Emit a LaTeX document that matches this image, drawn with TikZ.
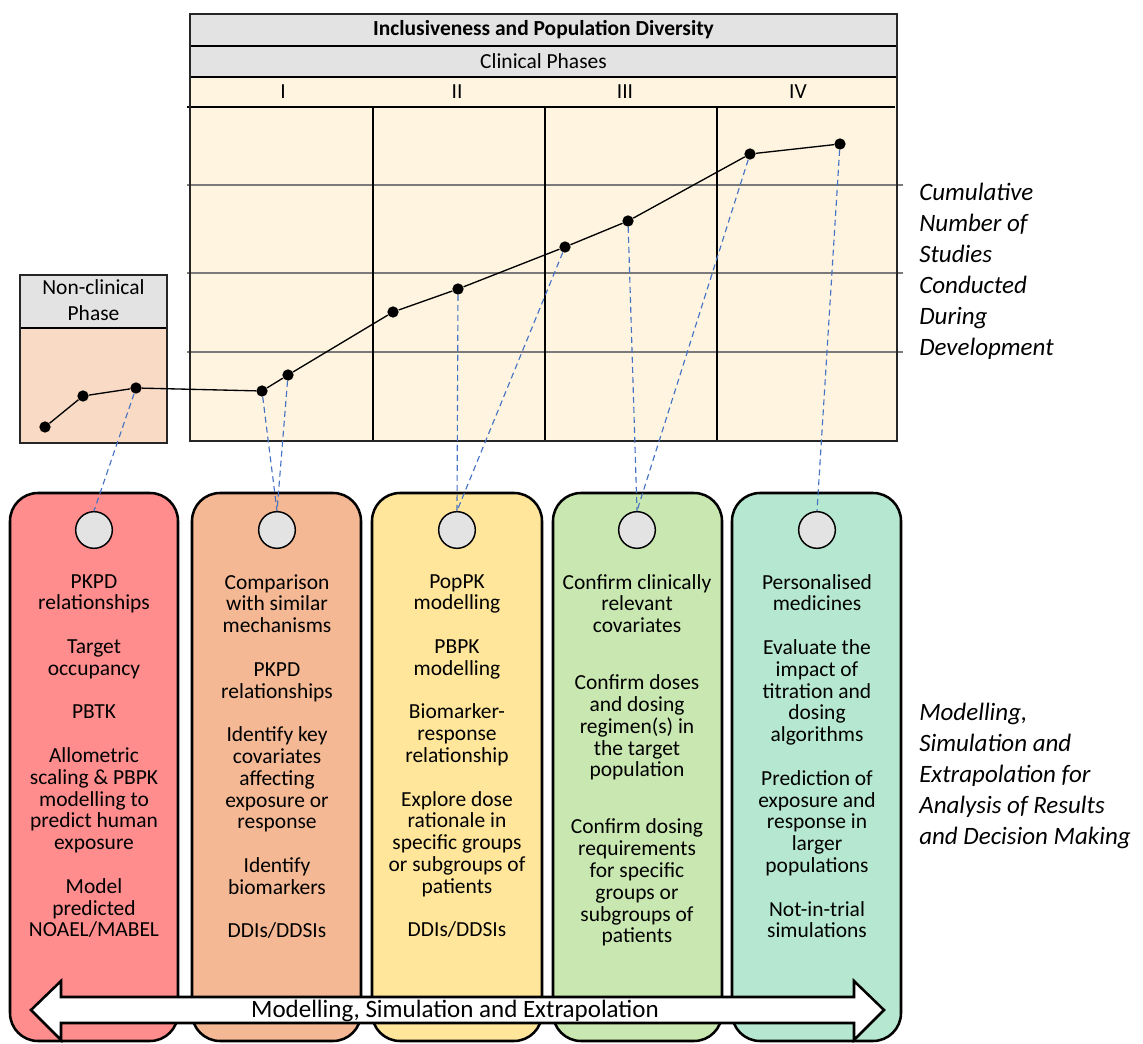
\documentclass[tikz,border=0pt]{standalone}
\usepackage{fontspec}
\setmainfont{Carlito}
\usetikzlibrary{positioning, shapes}

\definecolor{hdrgray}{HTML}{E3E3E3}
\definecolor{cream}{HTML}{FEF4E0}
\definecolor{peach}{HTML}{F9DAC5}
\definecolor{dashblue}{HTML}{4472C4}
\definecolor{gridgray}{HTML}{7A7A7A}
\definecolor{boxred}{HTML}{FF8D8D}
\definecolor{boxorange}{HTML}{F4B994}
\definecolor{boxyellow}{HTML}{FFE69B}
\definecolor{boxgreen}{HTML}{C9E7B0}
\definecolor{boxteal}{HTML}{B6E8D1}

\begin{document}
\begin{tikzpicture}[x=0.75pt, y=-0.75pt,
    txt/.style={font=\fontsize{16.1}{16.35}\selectfont, inner sep=0pt},
    boxtxt/.style={txt, align=center, anchor=north},
    sidetxt/.style={font=\fontsize{18.75}{23.25}\selectfont\itshape, align=left, anchor=north west, inner sep=0pt},
    dot/.style={circle, fill=black, inner sep=0pt, minimum size=8.5pt},
    link/.style={draw=dashblue, line width=0.85pt, dash pattern=on 4.5pt off 3pt},
    tag/.style={circle, draw=black, line width=1.1pt, fill=hdrgray, inner sep=0pt, minimum size=27.5pt},
    card/.style={draw=black, line width=1.9pt, rounded corners=21pt}]

    \useasboundingbox (0,0) rectangle (1143,1044);
    \clip (0,0) rectangle (1143,1044);

    % clinical phases table
    \fill[hdrgray] (190,14) rectangle (897,77);
    \fill[cream] (190,77) rectangle (897,441);
    \draw[gridgray, line width=1.5pt] (187,185) -- (903,185);
    \draw[gridgray, line width=1.5pt] (187,273) -- (903,273);
    \draw[gridgray, line width=1.5pt] (187,352) -- (903,352);
    \draw[line width=1pt] (373,107) -- (373,441);
    \draw[line width=1pt] (545,107) -- (545,441);
    \draw[line width=1pt] (717,107) -- (717,441);
    \draw[line width=0.9pt] (190,46) -- (897,46);
    \draw[line width=0.9pt] (190,77) -- (897,77);
    \draw[line width=2.2pt] (187,107) -- (895,107);
    \draw[line width=1.4pt, black!85] (190,14) rectangle (897,441);

    \node[txt, font=\fontsize{16.1}{16.35}\selectfont\bfseries] (incl) at (543.5,30) {Inclusiveness and Population Diversity};
    \node[txt] (clin) at (543.5,61) {Clinical Phases};
    \node[txt] (ph1) at (283,92) {I};
    \node[txt] (ph2) at (457,92) {II};
    \node[txt] (ph3) at (625,92) {III};
    \node[txt] (ph4) at (798,92) {IV};

    % non-clinical box
    \fill[hdrgray] (20,275) rectangle (167,328);
    \fill[peach] (20,328) rectangle (167,443);
    \draw[line width=2.2pt] (20,328) -- (167,328);
    \draw[line width=1.4pt, black!85] (20,275) rectangle (167,443);
    \node[txt, align=center, font=\fontsize{16.1}{19.5}\selectfont] (nonclin) at (93.5,300) {Non-clinical\\Phase};

    \node[sidetxt] (cumul) at (919,183) {Cumulative\\Number of\\Studies\\Conducted\\During\\Development};

    % bottom cards
    \draw[card, fill=boxred] (10,493) rectangle (178,1041);
    \draw[card, fill=boxorange] (192,493) rectangle (361,1041);
    \draw[card, fill=boxyellow] (372,493) rectangle (542,1041);
    \draw[card, fill=boxgreen] (553,493) rectangle (722,1041);
    \draw[card, fill=boxteal] (732,493) rectangle (901,1041);

    \node[boxtxt] (t1) at (94,574) {PKPD\\relationships\\[16.35pt]Target\\occupancy\\[16.35pt]PBTK\\[16.35pt]Allometric\\scaling \& PBPK\\modelling to\\predict human\\exposure\\[16.35pt]Model\\predicted\\NOAEL/MABEL};
    \node[boxtxt] (t2) at (277,574) {Comparison\\with similar\\mechanisms\\[16.35pt]PKPD\\relationships\\[16.35pt]Identify key\\covariates\\affecting\\exposure or\\response\\[16.35pt]Identify\\biomarkers\\[16.35pt]DDIs/DDSIs};
    \node[boxtxt] (t3) at (457,574) {PopPK\\modelling\\[16.35pt]PBPK\\modelling\\[16.35pt]Biomarker-\\response\\relationship\\[16.35pt]Explore dose\\rationale in\\specific groups\\or subgroups of\\patients\\[16.35pt]DDIs/DDSIs};
    \node[boxtxt] (t4) at (637,574) {Confirm clinically\\relevant\\covariates\\[26.4pt]Confirm doses\\and dosing\\regimen(s) in\\the target\\population\\[26.4pt]Confirm dosing\\requirements\\for specific\\groups or\\subgroups of\\patients};
    \node[boxtxt] (t5) at (817,574) {Personalised\\medicines\\[16.35pt]Evaluate the\\impact of\\titration and\\dosing\\algorithms\\[16.35pt]Prediction of\\exposure and\\response in\\larger\\populations\\[16.35pt]Not-in-trial\\simulations};

    \node[sidetxt] (msea) at (919,703) {Modelling,\\Simulation and\\Extrapolation for\\Analysis of Results\\and Decision Making};

    % double arrow across the cards
    \draw[line width=1.9pt, fill=white, line join=miter] (31,1010) -- (61,981) -- (61,997) -- (854,997) -- (854,981) -- (884,1010) -- (854,1040) -- (854,1023) -- (61,1023) -- (61,1040) -- cycle;
    \node[txt, font=\fontsize{18.75}{20}\selectfont, anchor=base] (mse) at (455,1017) {Modelling, Simulation and Extrapolation};

    \node[tag] (c1) at (94,530) {};
    \node[tag] (c2) at (277,530) {};
    \node[tag] (c3) at (457,530) {};
    \node[tag] (c4) at (637,530) {};
    \node[tag] (c5) at (817,530) {};

    % cumulative studies
    \node[dot] (p1) at (45,427) {};
    \node[dot] (p2) at (83,396) {};
    \node[dot] (p3) at (136,388) {};
    \node[dot] (p4) at (262,391) {};
    \node[dot] (p5) at (288,375) {};
    \node[dot] (p6) at (393,312) {};
    \node[dot] (p7) at (458,289) {};
    \node[dot] (p8) at (565,247) {};
    \node[dot] (p9) at (628,221) {};
    \node[dot] (p10) at (750,154) {};
    \node[dot] (p11) at (840,144) {};

    \draw[line width=1pt] (p1) -- (p2) -- (p3) -- (p4) -- (p5) -- (p6) -- (p7) -- (p8) -- (p9) -- (p10) -- (p11);

    \draw[link] (p3) -- (c1.north);
    \draw[link] (p4) -- (c2.north);
    \draw[link] (p5) -- (c2.north);
    \draw[link] (p7) -- (c3.north);
    \draw[link] (p8) -- (c3.north);
    \draw[link] (p9) -- (c4.north);
    \draw[link] (p10) -- (c4.north);
    \draw[link] (p11) -- (c5.north);

\end{tikzpicture}
\end{document}
